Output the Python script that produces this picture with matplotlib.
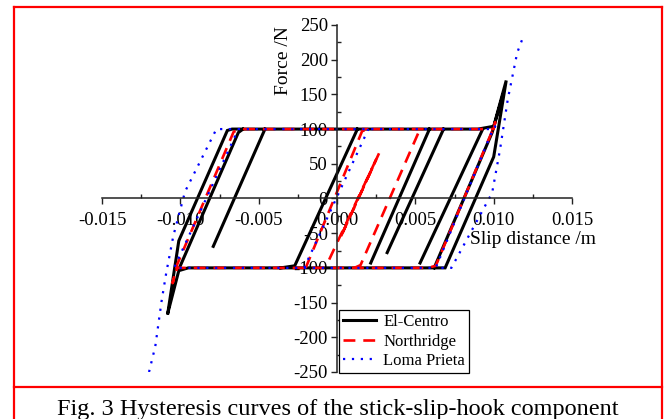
import numpy as np
import matplotlib
matplotlib.use("Agg")
import matplotlib.pyplot as plt
from matplotlib.lines import Line2D
from matplotlib.ticker import MultipleLocator, FormatStrFormatter

plt.rcParams['font.family'] = ['Liberation Serif', 'DejaVu Serif']
plt.rcParams['axes.unicode_minus'] = False

nan = np.nan

# El-Centro (slip distance in m, force in N), segments split by nan
el_centro_x = [-0.0079, -0.0046, nan,
               -0.0108, -0.0101, -0.0070, -0.0067, 0.0090, 0.0100, 0.0108, 0.0100, 0.0069,
               -0.0095, -0.0101, -0.0108, nan,
               -0.0101, -0.0063, -0.0060, nan,
               0.0062, 0.0099, 0.0106, nan,
               -0.0036, -0.0027, 0.0013, nan,
               0.00215, 0.0059, nan,
               0.0032, 0.0068, nan,
               0.0053, 0.0093]
el_centro_y = [-69, 100, nan,
               -165, -61, 98, 100, 100, 104, 170, 60, -100,
               -100, -104, -165, nan,
               -102, 95, 100, nan,
               -100, 95, 150, nan,
               -100, -97, 100, nan,
               -93, 100, nan,
               -78, 100, nan,
               -93, 100]

# Northridge
northridge_x = [-0.0020, 0.0016, 0.0020, 0.0100, 0.0101, 0.0099, 0.0063, 0.0058,
                -0.0102, -0.0105, -0.0102, -0.0066, -0.0062, 0.0020, nan,
                0.0011, 0.0015, 0.0052, nan,
                -0.0005, 0.0027, 0.0002, 0.0024]
northridge_y = [-100, 97, 100, 100, 110, 97, -97, -100,
                -100, -122, -95, 96, 100, 100, nan,
                -100, -96, 95, nan,
                -88, 66, -57, 51]

# Loma Prieta
loma_x = [-0.0120, -0.0116, -0.0112, -0.0109, -0.01045, -0.0097, -0.0077, 0.0100, 0.0101,
          0.0099, 0.0063, -0.0104, -0.0063, nan,
          0.0118, 0.0115, 0.0109, 0.0104, 0.0099, 0.0073, 0.0063, nan,
          -0.0021, 0.0020]
loma_y = [-250, -213, -148, -107, -54, 10, 100, 100, 104,
          97, -100, -100, 100, nan,
          228, 210, 143, 70, 8, -100, -100, nan,
          -100, 100]

x_ticks = [-0.015, -0.010, -0.005, 0.000, 0.005, 0.010, 0.015]
y_ticks = [-250, -200, -150, -100, -50, 0, 50, 100, 150, 200, 250]

fig = plt.figure(figsize=(6.66, 4.19), dpi=100)
ax = fig.add_axes([0.1532, 0.1122, 0.7057, 0.8282])

ax.plot(el_centro_x, el_centro_y, color='black', lw=2.2, label='El-Centro',
        solid_joinstyle='miter')
ax.plot(northridge_x, northridge_y, color='#ff0000', lw=1.9, ls=(0, (4.5, 3)),
        label='Northridge')
ax.plot(loma_x, loma_y, color='#0000ff', lw=1.6, ls=(0, (1, 3)), label='Loma Prieta')

ax.set_xlim(-0.015, 0.015)
ax.set_ylim(-250, 250)

# axes crossing at origin
ax.spines['left'].set_position(('data', 0))
ax.spines['bottom'].set_position(('data', 0))
ax.spines['top'].set_visible(False)
ax.spines['right'].set_visible(False)
for s in ('left', 'bottom'):
    ax.spines[s].set_linewidth(1.1)
    ax.spines[s].set_color('#222222')

ax.set_xticks(x_ticks)
ax.set_yticks(y_ticks)
ax.xaxis.set_minor_locator(MultipleLocator(0.0025))
ax.yaxis.set_minor_locator(MultipleLocator(25))
ax.xaxis.set_major_formatter(FormatStrFormatter('%.3f'))
ax.yaxis.set_major_formatter(FormatStrFormatter('%d'))
ax.tick_params(which='major', direction='out', length=4.5, width=1.0, labelsize=13.5,
               color='#222222')
ax.tick_params(axis='x', which='major', pad=5)
ax.tick_params(axis='y', which='major', pad=2)
ax.tick_params(which='minor', direction='in', length=3, width=1.0, color='#222222')
ax.patch.set_visible(False)

ax.set_xlabel('Slip distance /m', fontsize=14)
ax.xaxis.set_label_coords(0.917, 0.405)
ax.set_ylabel('Force /N', fontsize=14)
ax.yaxis.set_label_coords(0.404, 0.896)

leg = ax.legend(loc='lower left', bbox_to_anchor=(0.504, -0.003), borderaxespad=0,
                fontsize=12, frameon=True, fancybox=False, framealpha=1,
                edgecolor='black', handlelength=2.0, handletextpad=0.4,
                labelspacing=0.2, borderpad=0.25)
leg.get_frame().set_linewidth(0.9)

# red frame and caption
red = '#ff0000'
fig.add_artist(Line2D([0.021, 0.021], [0.0, 0.9833], color=red, lw=1.6))
fig.add_artist(Line2D([0.994, 0.994], [0.0, 0.9833], color=red, lw=1.6))
fig.add_artist(Line2D([0.021, 0.994], [0.9833, 0.9833], color=red, lw=1.6))
fig.add_artist(Line2D([0.021, 0.994], [0.0764, 0.0764], color=red, lw=1.6))
fig.text(0.5075, 0.0095, 'Fig. 3 Hysteresis curves of the stick-slip-hook component',
         ha='center', va='baseline', fontsize=17.5)

fig.savefig('out.png', dpi=100)
